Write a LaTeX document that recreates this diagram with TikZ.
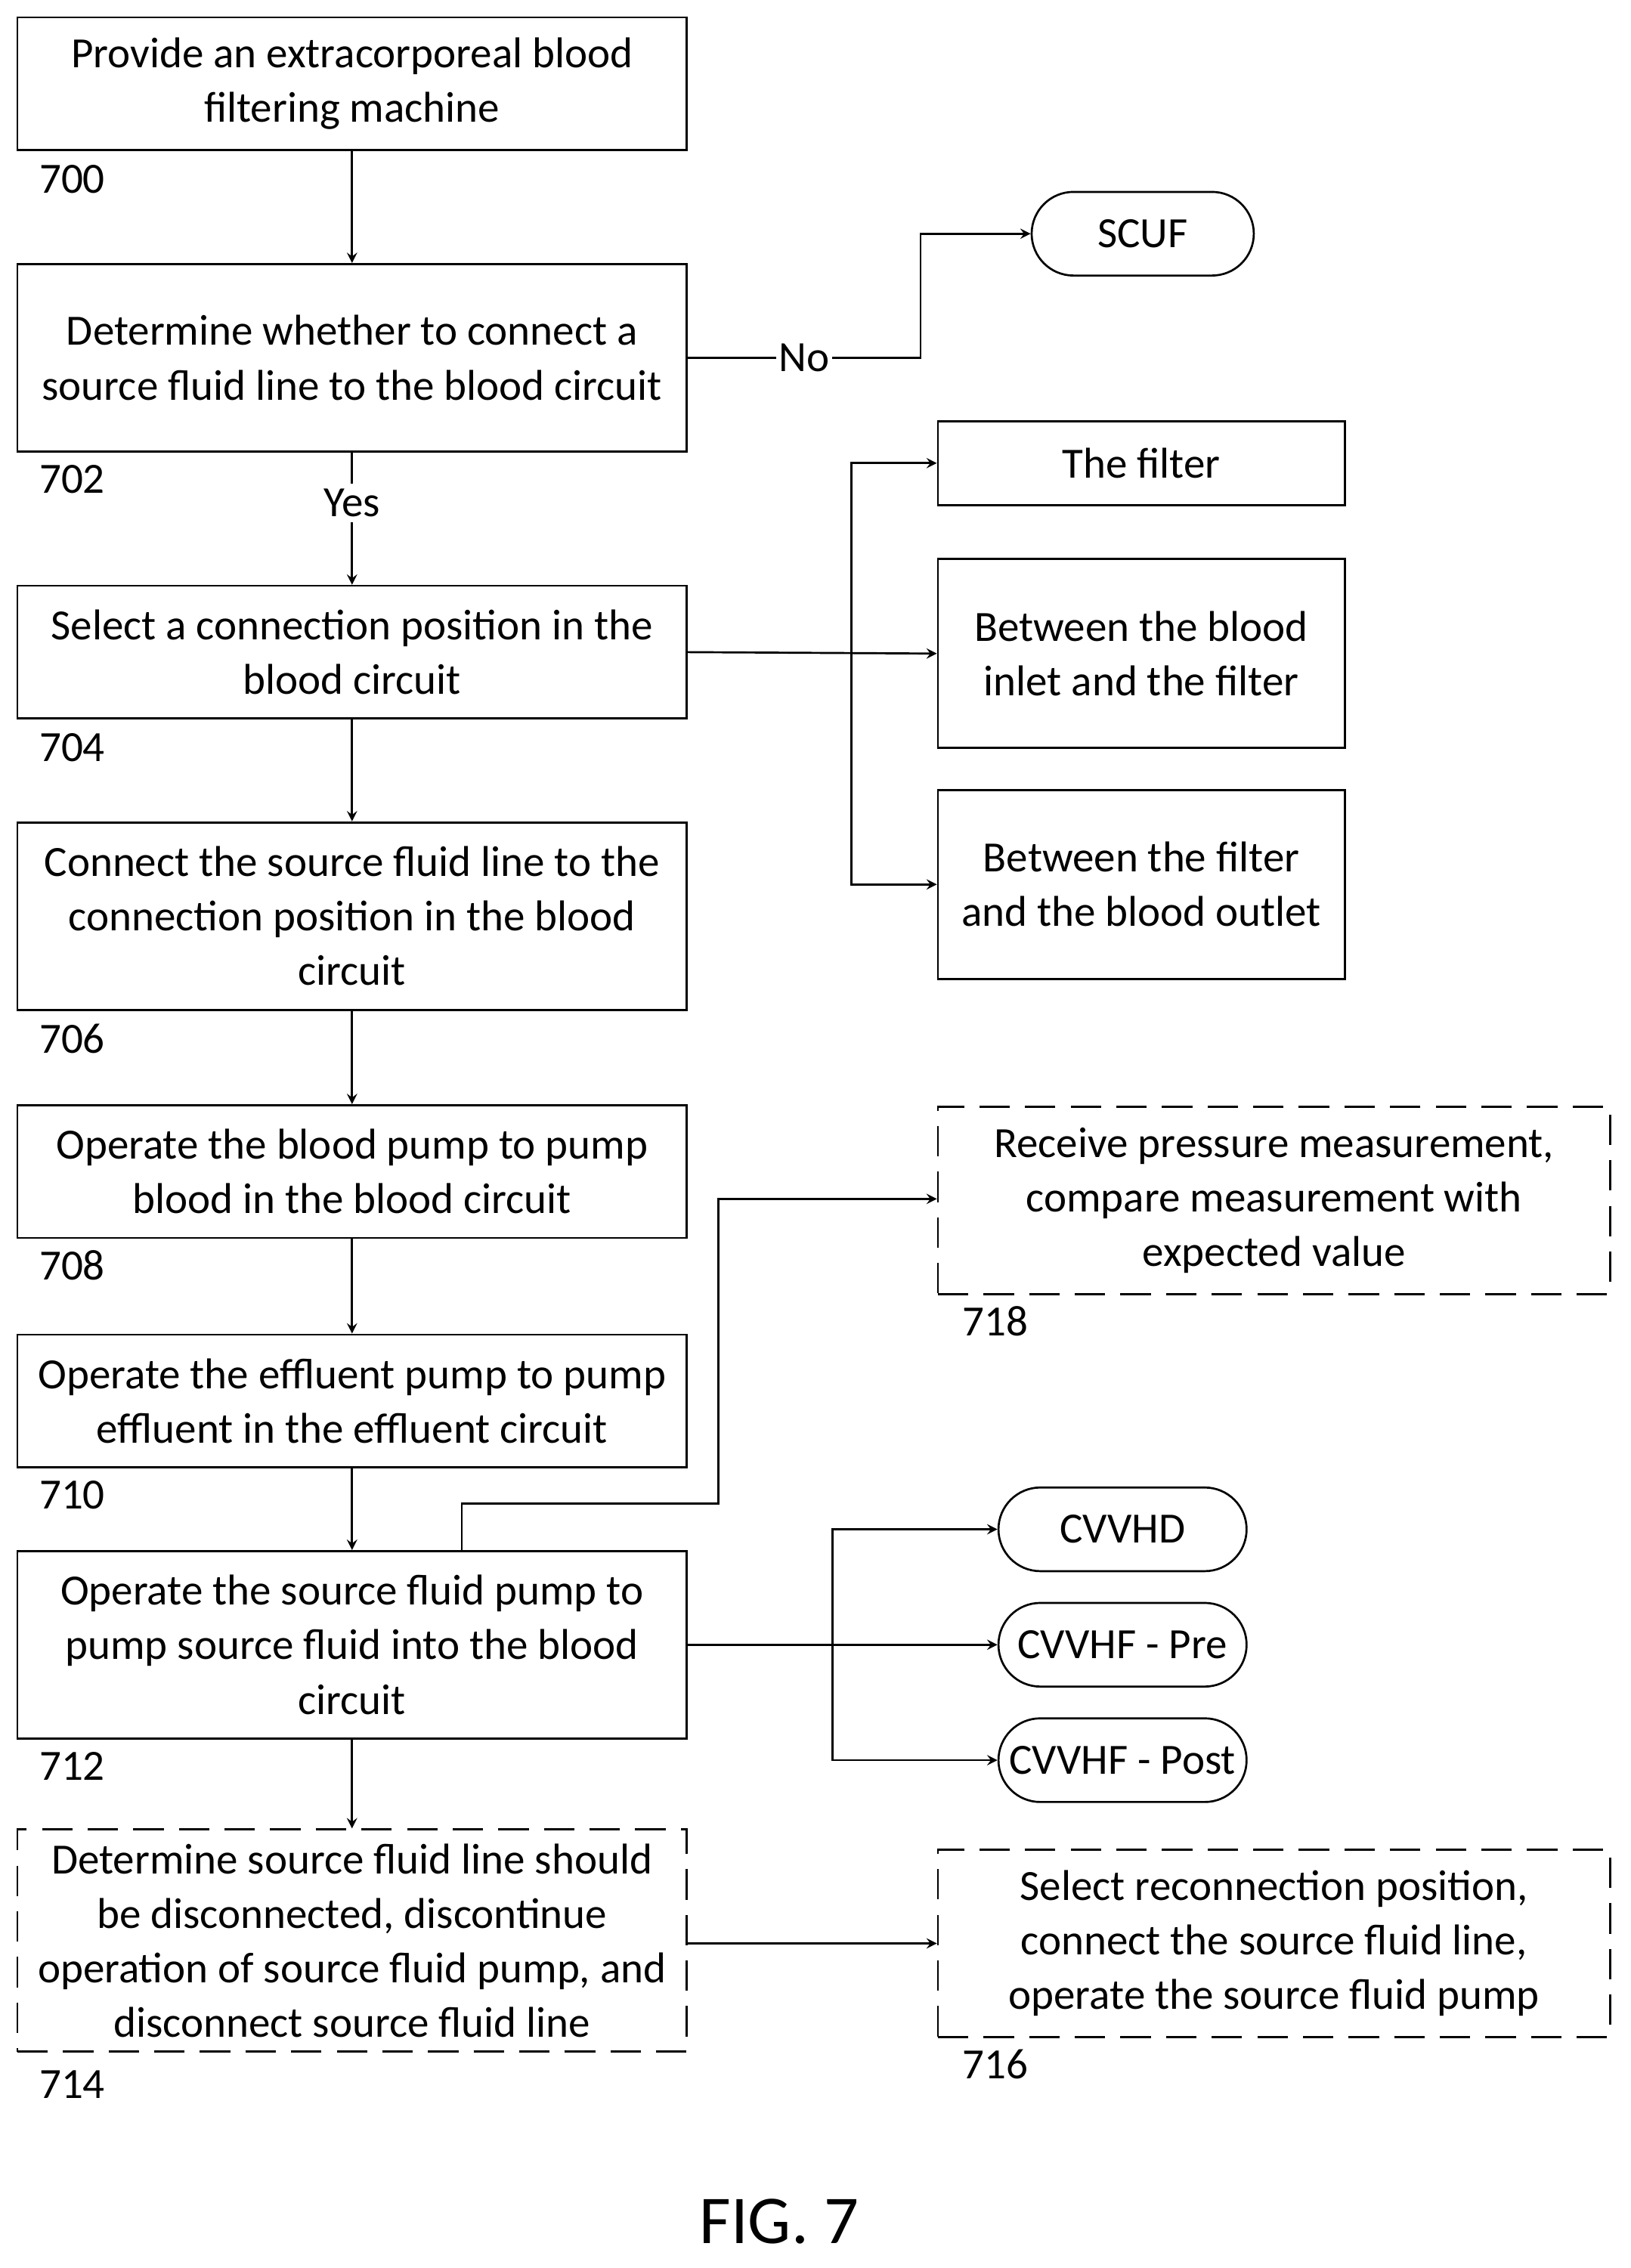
\documentclass[tikz,border=0pt]{standalone}
\usepackage{fontspec}
\setmainfont{Carlito}
\usetikzlibrary{arrows}

\begin{document}
\begin{tikzpicture}[x=0.02cm, y=-0.02cm, >=stealth, line width=0.8pt,
    font=\fontsize{17}{21.5}\selectfont,
    proc/.style={draw, align=center, inner sep=0pt, minimum width=9.28cm},
    side/.style={draw, align=center, inner sep=0pt, minimum width=5.64cm},
    wide/.style={draw, dash pattern=on 12pt off 6pt, align=center, inner sep=0pt, minimum width=9.32cm},
    mode/.style={draw, rounded corners=0.58cm, inner sep=0pt, minimum height=1.16cm},
    num/.style={inner sep=0pt}]
        \useasboundingbox (0, 0) rectangle (1130, 1572);
        % Main column
        \node [proc, minimum height=1.84cm] (s700) at (244, 58) {Provide an extracorporeal blood\\filtering machine};
        \node [proc, minimum height=2.6cm] (s702) at (244, 248) {Determine whether to connect a\\source fluid line to the blood circuit};
        \node [proc, minimum height=1.84cm] (s704) at (244, 452) {Select a connection position in the\\blood circuit};
        \node [proc, minimum height=2.6cm] (s706) at (244, 635) {Connect the source fluid line to the\\connection position in the blood\\circuit};
        \node [proc, minimum height=1.84cm] (s708) at (244, 812) {Operate the blood pump to pump\\blood in the blood circuit};
        \node [proc, minimum height=1.84cm] (s710) at (244, 971) {Operate the effluent pump to pump\\effluent in the effluent circuit};
        \node [proc, minimum height=2.6cm] (s712) at (244, 1140) {Operate the source fluid pump to\\pump source fluid into the blood\\circuit};
        \node [proc, dash pattern=on 12pt off 6pt, minimum height=3.08cm] (s714) at (244, 1345) {Determine source fluid line should\\be disconnected, discontinue\\operation of source fluid pump, and\\disconnect source fluid line};
        % Numbers
        \node [num] at (50, 124) {700};
        \node [num] at (50, 332) {702};
        \node [num] at (50, 518) {704};
        \node [num] at (50, 720) {706};
        \node [num] at (50, 877) {708};
        \node [num] at (50, 1036) {710};
        \node [num] at (50, 1224) {712};
        \node [num] at (50, 1445) {714};
        \node [num] at (690, 916) {718};
        \node [num] at (690, 1431) {716};
        % Right column
        \node [mode, minimum width=3.08cm] (scuf) at (792, 162) {SCUF};
        \node [side, minimum height=1.16cm] (filt) at (791, 321) {The filter};
        \node [side, minimum height=2.62cm] (inlet) at (791, 453) {Between the blood\\inlet and the filter};
        \node [side, minimum height=2.62cm] (outlet) at (791, 613) {Between the filter\\and the blood outlet};
        \node [wide, minimum height=2.6cm] (s718) at (883, 832) {Receive pressure measurement,\\compare measurement with\\expected value};
        \node [mode, minimum width=3.44cm] (cvvhd) at (778, 1060) {CVVHD};
        \node [mode, minimum width=3.44cm] (pre) at (778, 1140) {CVVHF - Pre};
        \node [mode, minimum width=3.44cm] (post) at (778, 1220) {CVVHF - Post};
        \node [wide, minimum height=2.6cm] (s716) at (883, 1347) {Select reconnection position,\\connect the source fluid line,\\operate the source fluid pump};
        \node [font=\fontsize{27}{32}\selectfont] (fig) at (540, 1540) {FIG. 7};
        % Connectors
        \draw [->] (s700) -- (s702);
        \draw [->] (s702.east) -- node [fill=white, inner sep=1pt] {No} (638, 248) |- (scuf.west);
        \draw [->] (s702) -- node [fill=white, inner sep=2pt, pos=0.38] {Yes} (s704);
        \draw [->] (s704.east) -- (inlet.west);
        \draw [->] (590, 452) |- (filt.west);
        \draw [->] (590, 452) |- (outlet.west);
        \draw [->] (s704) -- (s706);
        \draw [->] (s706) -- (s708);
        \draw [->] (s708) -- (s710);
        \draw [->] (s710) -- (s712);
        \draw [->] (320, 1075) -- (320, 1042) -| (498, 831) -- (s718.west |- 0, 831);
        \draw [->] (s712.east) -- (pre.west);
        \draw [->] (577, 1140) |- (cvvhd.west);
        \draw [->] (577, 1140) |- (post.west);
        \draw [->] (s712) -- (s714);
        \draw [->] (s714.east |- 0, 1347) -- (s716.west);
\end{tikzpicture}
\end{document}
